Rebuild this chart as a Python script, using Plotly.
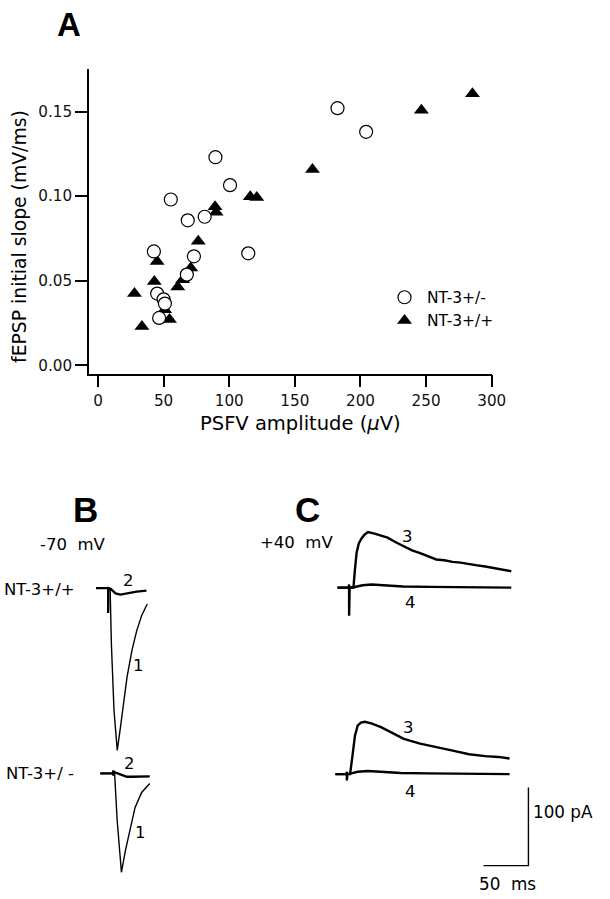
import plotly.graph_objects as go

W, H = 610, 899

# ---------------- Panel A data ----------------
het_x = [182.5, 204.3, 89.5, 100.6, 55.5, 68.4, 81.3, 114.5, 42.6, 73.1, 67.7, 45.1, 50.0, 51.0, 46.6]
het_y = [0.152, 0.138, 0.123, 0.1065, 0.098, 0.0857, 0.0878, 0.0662, 0.0673, 0.0644, 0.0536, 0.0424, 0.039, 0.0365, 0.028]
wt_x = [285.3, 246.4, 163.4, 116.0, 121.0, 89.2, 90.0, 76.4, 45.1, 70.7, 42.9, 64.5, 60.8, 27.8, 50.8, 54.5, 33.5]
wt_y = [0.1605, 0.1508, 0.1158, 0.0996, 0.0992, 0.0937, 0.0904, 0.0733, 0.0614, 0.0575, 0.0496, 0.0506, 0.0463, 0.0424, 0.0329, 0.027, 0.023]
x_ticks = [0, 50, 100, 150, 200, 250, 300]
y_ticks = [0.00, 0.05, 0.10, 0.15]

# ---------------- Panel B traces (-70 mV), time ms / current pA ----------------
b_wt_1_t = [-13.5, 0, 2.2, 3.6, 6.5, 10.1, 13.7, 17.4, 21.0, 26.4, 31.8, 37.3, 43.5]
b_wt_1_i = [0, 0, -2, -71.5, -156.6, -207.6, -177.9, -148.1, -114.0, -79.9, -54.4, -35.2, -20.4]
b_wt_2_t = [-13.5, -0.3, 0, 0, 0.4, 2.8, 5.5, 8.2, 13.7, 21.0, 31.8, 42.6]
b_wt_2_i = [0, 0, 0, -32, 0, -1, -4, -6.8, -8.5, -6.8, -4.6, -3.3]
b_het_1_t = [-14.5, 0, 1.4, 4.3, 9.0, 13.4, 18.8, 24.2, 31.5, 40.5]
b_het_1_i = [0, 0, 0, -60.5, -126.4, -98.8, -69.0, -43.4, -24.3, -12.8]
b_het_2_t = [-14.5, -0.3, 0, 0, 0.3, 2.5, 5, 10, 15, 20, 30, 40.5]
b_het_2_i = [0, 0, 4, -3, 2, 1, 0, -3, -4.2, -4.2, -4.0, -3.8]

# ---------------- Panel C traces (+40 mV) ----------------
c_wt_3_t = [-13, 4.8, 6.5, 8.4, 10.9, 13.8, 17.4, 21.0, 28.3, 35.5, 42.8, 51.9, 60.9, 70.0, 79.0, 88.0,
            97.0, 106.0, 115.0, 124.0, 133.0, 142.5, 151.5, 160.5, 169.6, 180.4]
c_wt_3_i = [0, 0, 23, 45, 57, 63, 68, 71, 69, 66.8, 64, 58, 53, 47.6, 44, 40,
            36, 35, 33, 32, 30, 28.5, 27, 25, 23, 21]
c_wt_4_t = [-13, -0.5, 0, 0, 0.6, 5, 15, 25, 40, 60, 90, 130, 180.4]
c_wt_4_i = [0, 0, 4, -36, 0, 0.5, 3, 4, 3, 1.5, 1, 0.5, 0]
c_het_3_t = [-12.7, 3.6, 6.2, 9.0, 12.0, 15.6, 19.9, 27.2, 38.0, 50.7, 63.4, 81.5, 99.7, 117.8,
             135.9, 154.0, 168.5, 181.0]
c_het_3_i = [0, 0, 23, 49, 62, 66, 67, 65, 60, 52, 45, 39, 34, 30,
             25.5, 23, 22, 20]
c_het_4_t = [-12.7, -0.5, 0, 0, 0.6, 5, 12, 23.5, 40, 60, 90, 130, 181.0]
c_het_4_i = [0, 0, 3, -8, 0, 1, 3, 4, 3, 1.5, 1, 0.5, 0]

scale_ms = 50
scale_pa = 100

# ---------------- geometry helpers ----------------
def fx(px):
    return px / W

def fy(py):
    return 1 - py / H

PXMS = 0.92   # pixels per ms
PXPA = 0.783  # pixels per pA

fig = go.Figure()
layout = {}

def trace_axes(n, x0_px, y0_px, trange, prange):
    left = x0_px + trange[0] * PXMS
    right = x0_px + trange[1] * PXMS
    top = y0_px - prange[1] * PXPA
    bottom = y0_px - prange[0] * PXPA
    layout[f"xaxis{n}"] = dict(domain=[fx(left), fx(right)], range=trange, visible=False,
                               anchor=f"y{n}", fixedrange=True)
    layout[f"yaxis{n}"] = dict(domain=[fy(bottom), fy(top)], range=prange, visible=False,
                               anchor=f"x{n}", fixedrange=True)

trace_axes(2, 110.7, 588.7, [-20, 50], [-215, 30])   # B upper
trace_axes(3, 116.0, 774.3, [-20, 50], [-135, 15])   # B lower
trace_axes(4, 357.3, 588.3, [-20, 190], [-40, 80])   # C upper
trace_axes(5, 355.0, 775.0, [-20, 210], [-130, 80])  # C lower

def line(t, i, n, w):
    fig.add_trace(go.Scatter(x=t, y=i, mode="lines", xaxis=f"x{n}", yaxis=f"y{n}",
                             line=dict(color="black", width=w), showlegend=False,
                             hoverinfo="skip"))

# Panel A markers
fig.add_trace(go.Scatter(x=wt_x, y=wt_y, mode="markers", name="NT-3+/+", legendrank=2,
                         marker=dict(symbol="triangle-up", size=13, color="black",
                                     line=dict(width=0))))
fig.add_trace(go.Scatter(x=het_x, y=het_y, mode="markers", name="NT-3+/-", legendrank=1,
                         marker=dict(symbol="circle", size=13, color="white",
                                     line=dict(color="black", width=1.2))))

# Panel B
line(b_wt_1_t, b_wt_1_i, 2, 1.4)
line(b_wt_2_t, b_wt_2_i, 2, 2.3)
line(b_het_1_t, b_het_1_i, 3, 1.4)
line(b_het_2_t, b_het_2_i, 3, 2.3)
# Panel C
line(c_wt_3_t, c_wt_3_i, 4, 2.4)
line(c_wt_4_t, c_wt_4_i, 4, 2.4)
line(c_het_3_t, c_het_3_i, 5, 2.4)
line(c_het_4_t, c_het_4_i, 5, 2.4)
# scale bar (corner placed at t=202 ms, -117 pA of the lower C axes)
corner_t, corner_i = 202, -117
line([corner_t - scale_ms, corner_t, corner_t], [corner_i, corner_i, corner_i + scale_pa], 5, 1.4)

AFONT = "DejaVu Sans"
layout["xaxis"] = dict(domain=[fx(91), fx(503.3)], range=[-6.9, 300], tickvals=x_ticks,
                       showline=True, linecolor="black", linewidth=1.5, ticks="outside",
                       ticklen=12, tickwidth=1.5, tickcolor="black", showgrid=False,
                       zeroline=False, tickfont=dict(family=AFONT, size=15.2, color="#111"),
                       anchor="y", fixedrange=True)
layout["yaxis"] = dict(domain=[fy(374), fy(69)], range=[-0.0049, 0.1752], tickvals=y_ticks,
                       tickformat=".2f", showline=True, linecolor="black", linewidth=1.5,
                       ticks="outside", ticklen=12, tickwidth=1.5, tickcolor="black",
                       showgrid=False, zeroline=False,
                       tickfont=dict(family=AFONT, size=15.2, color="#111"),
                       anchor="x", fixedrange=True)

ann = []
def text(s, x, y, size, family="DejaVu Sans", xanchor="center", bold=False, angle=0):
    ann.append(dict(text=f"<b>{s}</b>" if bold else s, x=fx(x), y=fy(y), xref="paper",
                    yref="paper", showarrow=False, xanchor=xanchor, yanchor="middle",
                    textangle=angle, font=dict(family=family, size=size, color="black")))

text("PSFV amplitude (<i>μ</i>V)", 307.5, 424.3, 19.5, AFONT)
text("fEPSP initial slope (mV/ms)", 20, 236.7, 18.8, AFONT, angle=-90)
text("A", 70.5, 25, 33, "Liberation Sans", bold=True)
text("B", 87.5, 510, 35, "Liberation Sans", bold=True)
text("C", 315, 510, 35, "Liberation Sans", bold=True)
text("-70\u00a0\u00a0mV", 75, 545, 16.5)
text("+40\u00a0\u00a0mV", 303.5, 543, 16.5)
text("NT-3+/+", 2, 590, 16.5, xanchor="left")
text("NT-3+/ -", 4, 774.3, 16.5, xanchor="left")
text("2", 131.7, 581.5, 16.5)
text("1", 141.7, 666.5, 16.5)
text("2", 132.7, 764.3, 16.5)
text("1", 143.3, 833.3, 16.5)
text("3", 416.7, 536.7, 16.5)
text("4", 420, 603.3, 16.5)
text("3", 418.3, 728.3, 16.5)
text("4", 420, 792.7, 16.5)
text("100 pA", 543, 812.7, 16.8, xanchor="left")
text("50\u00a0\u00a0ms", 519, 885, 16.8)

layout.update(dict(
    width=W, height=H, autosize=False, margin=dict(l=0, r=0, t=0, b=0),
    paper_bgcolor="white", plot_bgcolor="white",
    showlegend=True,
    legend=dict(x=fx(391), y=fy(281), xanchor="left", yanchor="top",
                font=dict(family=AFONT, size=15.5, color="black"), itemwidth=35,
                bgcolor="rgba(0,0,0,0)", borderwidth=0, tracegroupgap=0),
    annotations=ann,
))
fig.update_layout(layout)
fig.write_html("out.html", config={"displayModeBar": False, "responsive": False})

# remove the browser's default page margin so that figure pixels match the window
with open("out.html", "r", encoding="utf-8") as f:
    html = f.read()
html = html.replace("<head>", "<head><style>html,body{margin:0;padding:0;overflow:hidden;}</style>", 1)
with open("out.html", "w", encoding="utf-8") as f:
    f.write(html)
